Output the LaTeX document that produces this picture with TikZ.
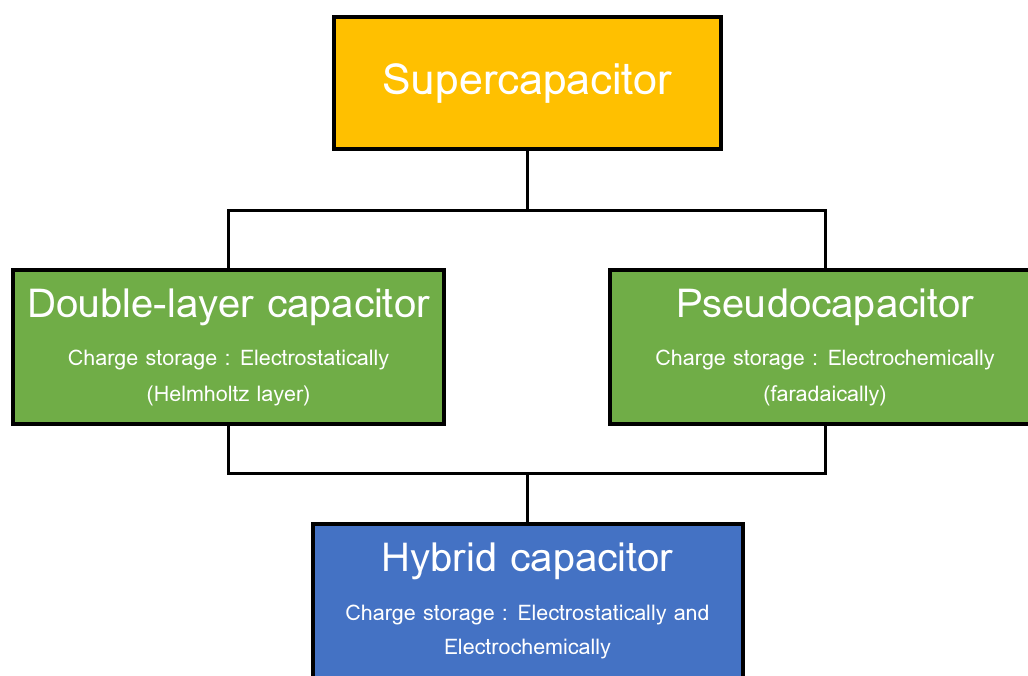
\documentclass[tikz,border=0pt]{standalone}
\usepackage{fontspec}
\setmainfont{Loma}
\usetikzlibrary{positioning}
\definecolor{super orange}{HTML}{FFC000}
\definecolor{layer green}{HTML}{70AD47}
\definecolor{hybrid blue}{HTML}{4472C4}
\tikzset{
  % For the boxes of the tree.
  box/.style={
    draw=black,
    line width=4pt,
    rectangle,
    inner sep=0pt,
    text=white,
    align=center},
%
  % Top box.
  top box/.style={
    box,
    fill=super orange,
    minimum width=387pt,
    minimum height=132pt,
    font=\fontsize{43pt}{48pt}\selectfont},
%
  % Middle boxes.
  kind box/.style={
    box,
    fill=layer green,
    minimum width=431pt,
    minimum height=154pt},
%
  % Bottom box.
  hybrid box/.style={
    box,
    fill=hybrid blue,
    minimum width=430pt,
    minimum height=154pt},
%
  % For the tree lines.
  link/.style={
    line width=3pt}
}
\newcommand{\boxtitle}{\fontsize{40pt}{40pt}\selectfont}
\newcommand{\boxnote}{\fontsize{21.5pt}{36pt}\selectfont}

\begin{document}
\begin{tikzpicture}[x=1pt,y=-1pt]
  \useasboundingbox (0,0) rectangle (1028,675);

  \node[top box] (super) at (527.5,83) {Supercapacitor};

  \node[kind box] (double) at (228.5,347)
    {\boxtitle Double-layer capacitor\\[24pt]
     \boxnote Charge storage : Electrostatically\\[14pt]
     \boxnote (Helmholtz layer)};

  \node[kind box] (pseudo) at (825,347)
    {\boxtitle Pseudocapacitor\\[24pt]
     \boxnote Charge storage : Electrochemically\\[14pt]
     \boxnote (faradaically)};

  \node[hybrid box] (hybrid) at (527.5,601)
    {\boxtitle Hybrid capacitor\\[24pt]
     \boxnote Charge storage : Electrostatically and\\[14pt]
     \boxnote Electrochemically};

  \coordinate (split) at (super.south |- 0,210);
  \coordinate (join) at (hybrid.north |- 0,473);

  \draw[link] (super.south) -- (split);
  \draw[link] (double.north) |- (split) -| (pseudo.north);

  \draw[link] (double.south) |- (join) -| (pseudo.south);
  \draw[link] (join) -- (hybrid.north);
\end{tikzpicture}
\end{document}
